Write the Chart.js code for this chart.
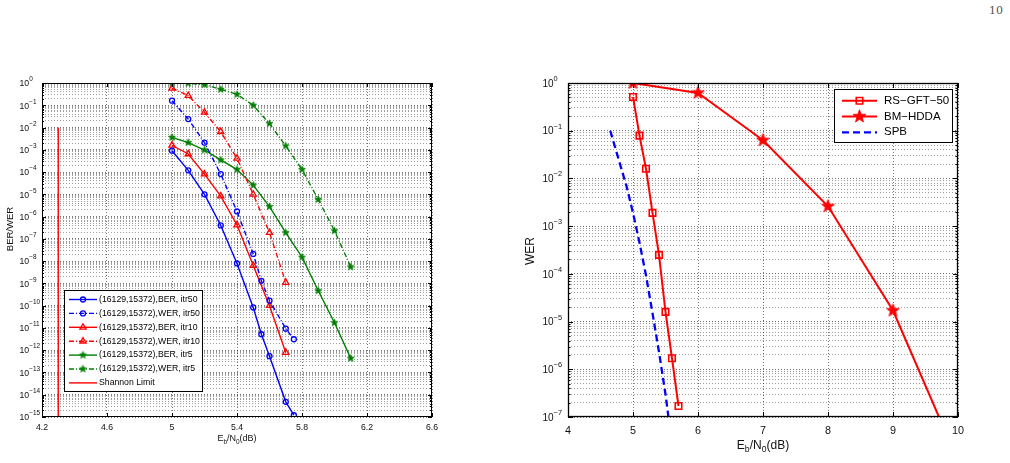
<!DOCTYPE html>
<html>
<head>
<meta charset="utf-8">
<script src="https://cdn.jsdelivr.net/npm/chart.js@4.4.1/dist/chart.umd.min.js"></script>
<style>
  html, body { margin: 0; padding: 0; background: #fff; width: 1010px; height: 463px; overflow: hidden; }
  #page { position: absolute; left: 989px; top: 4px; font: 11px "DejaVu Serif", "Liberation Serif", serif; color: #555; }
  #c1 { position: absolute; left: 0; top: 0; }
  #c2 { position: absolute; left: 480px; top: 0; }
</style>
</head>
<body>
<div id="page">10</div>
<canvas id="c1" width="450" height="463"></canvas>
<canvas id="c2" width="530" height="463"></canvas>
<script>
// ---- left panel: (16129,15372) code, BER/WER vs Eb/N0 ----
const ebnoItr50 = [5, 5.1, 5.2, 5.3, 5.4, 5.5, 5.55, 5.6, 5.7, 5.75];
const berItr50 = [9.1e-4, 1.2e-4, 1.0e-5, 4.0e-7, 7.9e-9, 8.3e-11, 5.2e-12, 5.4e-13, 4.8e-15, 1.2e-15];
const werItr50 = [1.6e-1, 2.4e-2, 2.1e-3, 8.1e-5, 1.7e-6, 2.1e-8, 1.3e-9, 1.7e-10, 9.3e-12, 3.1e-12];

const ebnoItr10 = [5, 5.1, 5.2, 5.3, 5.4, 5.5, 5.6, 5.7];
const berItr10 = [1.6e-3, 6.5e-4, 8.1e-5, 8.3e-6, 4.2e-7, 6.3e-9, 1.0e-10, 7.9e-13];
const werItr10 = [5.8e-1, 2.7e-1, 4.8e-2, 6.5e-3, 4.1e-4, 1.0e-5, 1.9e-7, 1.1e-9];

const ebnoItr5 = [5, 5.1, 5.2, 5.3, 5.4, 5.5, 5.6, 5.7, 5.8, 5.9, 6.0, 6.1];
const berItr5 = [3.6e-3, 2.1e-3, 9.8e-4, 3.5e-4, 1.3e-4, 2.6e-5, 2.8e-6, 1.9e-7, 1.5e-8, 4.7e-10, 1.7e-11, 4.3e-13];
const werItr5 = [1.0, 0.98, 0.85, 0.52, 0.31, 1.0e-1, 1.5e-2, 1.5e-3, 1.3e-4, 5.9e-6, 2.3e-7, 5.5e-9];

const shannonEbno = [4.3, 4.3];
const shannonLevel = [1e-2, 1e-15];

const leftXTicks = [4.2, 4.6, 5, 5.4, 5.8, 6.2, 6.6];
const leftYDecades = [-15, -14, -13, -12, -11, -10, -9, -8, -7, -6, -5, -4, -3, -2, -1, 0];

// ---- right panel: WER comparison ----
const ebnoRs = [5, 5.1, 5.2, 5.3, 5.4, 5.5, 5.6, 5.7];
const werRsGft50 = [0.51, 7.9e-2, 1.6e-2, 1.9e-3, 2.5e-4, 1.6e-5, 1.7e-6, 1.7e-7];
const ebnoBm = [5, 6, 7, 8, 9, 10];
const werBmHdda = [1.0, 0.62, 6.3e-2, 2.6e-3, 1.7e-5, 1.2e-8];
const ebnoSpb = [4.65, 4.8, 4.9, 5.0, 5.1, 5.2, 5.3, 5.4, 5.5, 5.55];
const werSpb = [1.0e-1, 2.0e-2, 6.9e-3, 1.9e-3, 4.5e-4, 9.3e-5, 1.5e-5, 2.3e-6, 3.0e-7, 8.9e-8];

const rightXTicks = [4, 5, 6, 7, 8, 9, 10];
const rightYDecades = [-7, -6, -5, -4, -3, -2, -1, 0];

const FONT = '"Liberation Sans", Arial, Helvetica, sans-serif';
const BLUE = '#0000ff', RED = '#ff0000', GREEN = '#008000';
const GRID_MAJOR = 'rgba(0,0,0,0.55)', GRID_MINOR = 'rgba(0,0,0,0.38)';

function series(xs, ys) { return xs.map((x, i) => ({ x, y: ys[i] })); }

function logTicks(decades) {
  const out = [];
  decades.forEach((e, i) => {
    const base = Math.pow(10, e);
    out.push({ value: base, major: true });
    if (i < decades.length - 1) {
      for (let k = 2; k <= 9; k++) out.push({ value: k * base, major: false });
    }
  });
  return out;
}

// filled pentagram used as point style
function pentagram(r, color) {
  const s = Math.ceil(2 * r + 3);
  const c = document.createElement('canvas');
  c.width = s; c.height = s;
  const g = c.getContext('2d');
  g.translate(s / 2, s / 2);
  g.beginPath();
  for (let k = 0; k < 10; k++) {
    const rr = k % 2 ? r * 0.42 : r;
    const a = -Math.PI / 2 + k * Math.PI / 5;
    g.lineTo(rr * Math.cos(a), rr * Math.sin(a));
  }
  g.closePath();
  g.fillStyle = color; g.fill();
  g.strokeStyle = color; g.lineWidth = 0.8; g.stroke();
  return c;
}

function drawMarker(ctx, ds, x, y) {
  const st = ds.pointStyle, r = ds.pointRadius || 0;
  if (!st || !r) return;
  if (typeof st === 'object') {
    ctx.drawImage(st, x - st.width / 2, y - st.height / 2);
    return;
  }
  ctx.save();
  ctx.setLineDash([]);
  ctx.strokeStyle = ds.pointBorderColor || ds.borderColor;
  ctx.lineWidth = ds.pointBorderWidth || 1;
  ctx.beginPath();
  if (st === 'circle') {
    ctx.arc(x, y, r, 0, Math.PI * 2);
  } else if (st === 'triangle') {
    ctx.moveTo(x, y - r);
    ctx.lineTo(x + 0.866 * r, y + 0.5 * r);
    ctx.lineTo(x - 0.866 * r, y + 0.5 * r);
    ctx.closePath();
  } else if (st === 'rect') {
    const h = r * Math.SQRT1_2;
    ctx.rect(x - h, y - h, 2 * h, 2 * h);
  }
  ctx.stroke();
  ctx.restore();
}

// legend drawn inside the axes, MATLAB style
const boxLegend = {
  id: 'boxLegend',
  afterDatasetsDraw(chart, args, o) {
    const ctx = chart.ctx;
    ctx.save();
    ctx.fillStyle = '#fff';
    ctx.fillRect(o.x, o.y, o.w, o.h);
    ctx.strokeStyle = '#000';
    ctx.lineWidth = 1;
    ctx.strokeRect(o.x + 0.5, o.y + 0.5, o.w, o.h);
    ctx.font = o.size + 'px ' + FONT;
    ctx.textBaseline = 'middle';
    ctx.textAlign = 'left';
    chart.data.datasets.forEach((ds, i) => {
      const y = o.y0 + i * o.step;
      ctx.save();
      ctx.strokeStyle = ds.borderColor;
      ctx.lineWidth = ds.borderWidth;
      ctx.setLineDash(ds.borderDash || []);
      ctx.beginPath();
      ctx.moveTo(o.x0, y);
      ctx.lineTo(o.x1, y);
      ctx.stroke();
      ctx.restore();
      drawMarker(ctx, ds, (o.x0 + o.x1) / 2, y);
      ctx.fillStyle = '#000';
      ctx.fillText(ds.label, o.tx, y);
    });
    ctx.restore();
  }
};

// box around the axes, inside tick marks and 10^n labels with real superscripts
const frame = {
  id: 'frame',
  afterDraw(chart, args, o) {
    const ctx = chart.ctx, a = chart.chartArea;
    const xs = chart.scales.x, ys = chart.scales.y;
    ctx.save();
    ctx.strokeStyle = '#000';
    ctx.lineWidth = 1;
    ctx.beginPath();
    xs.ticks.forEach(t => {
      const px = Math.round(xs.getPixelForValue(t.value)) + 0.5;
      ctx.moveTo(px, a.bottom); ctx.lineTo(px, a.bottom - o.tick);
      ctx.moveTo(px, a.top); ctx.lineTo(px, a.top + o.tick);
    });
    ys.ticks.forEach(t => {
      const py = Math.round(ys.getPixelForValue(t.value)) + 0.5;
      const len = t.major ? o.tick : o.tick * 0.5;
      ctx.moveTo(a.left, py); ctx.lineTo(a.left + len, py);
      ctx.moveTo(a.right, py); ctx.lineTo(a.right - len, py);
    });
    ctx.stroke();
    ctx.lineWidth = o.width;
    ctx.strokeRect(Math.round(a.left) + 0.5, Math.round(a.top) + 0.5,
      Math.round(a.right - a.left) - 1, Math.round(a.bottom - a.top) - 1);

    ctx.fillStyle = '#111';
    ctx.textAlign = 'left';
    ctx.textBaseline = 'middle';
    const sup = o.size * 0.74;
    ys.ticks.filter(t => t.major).forEach(t => {
      const py = ys.getPixelForValue(t.value);
      const e = Math.round(Math.log10(t.value));
      ctx.font = o.size + 'px ' + FONT;
      ctx.fillText('10', o.labelX, py + o.size * 0.1);
      const w = ctx.measureText('10').width;
      ctx.font = sup + 'px ' + FONT;
      ctx.fillText(String(e).replace('-', '\u2212'), o.labelX + w, py - o.size * 0.4);
    });
    ctx.restore();
  }
};

// axis titles with subscripts
function drawEbN0(ctx, cx, cy, size) {
  const parts = [['E', 0], ['b', 1], ['/N', 0], ['0', 1], ['(dB)', 0]];
  const sub = size * 0.72;
  let w = 0;
  parts.forEach(p => { ctx.font = (p[1] ? sub : size) + 'px ' + FONT; w += ctx.measureText(p[0]).width; });
  let x = cx - w / 2;
  parts.forEach(p => {
    ctx.font = (p[1] ? sub : size) + 'px ' + FONT;
    ctx.fillText(p[0], x, cy + (p[1] ? size * 0.32 : 0));
    x += ctx.measureText(p[0]).width;
  });
}
const axisTitles = {
  id: 'axisTitles',
  afterDraw(chart, args, o) {
    const ctx = chart.ctx;
    ctx.save();
    ctx.fillStyle = '#111';
    ctx.textBaseline = 'middle';
    ctx.textAlign = 'left';
    drawEbN0(ctx, o.xx, o.xy, o.xsize);
    ctx.translate(o.yx, o.yy);
    ctx.rotate(-Math.PI / 2);
    ctx.textAlign = 'center';
    ctx.font = o.ysize + 'px ' + FONT;
    ctx.fillText(o.ytext, 0, 0);
    ctx.restore();
  }
};

function makeScales(o) {
  return {
    x: {
      type: 'linear', min: o.xTicks[0], max: o.xTicks[o.xTicks.length - 1],
      afterBuildTicks: s => { s.ticks = o.xTicks.map(v => ({ value: v, major: true })); },
      afterFit: s => { s.height = o.xh; },
      ticks: { autoSkip: false, maxRotation: 0, padding: o.xpad, color: '#111',
        font: { family: FONT, size: o.tick }, callback: v => String(v) },
      grid: { color: GRID_MAJOR, lineWidth: 1, drawTicks: false },
      border: { display: false, dash: [1, 2] }
    },
    y: {
      type: 'logarithmic',
      min: Math.pow(10, o.yDecades[0]), max: Math.pow(10, o.yDecades[o.yDecades.length - 1]),
      afterBuildTicks: s => { s.ticks = logTicks(o.yDecades); },
      afterFit: s => { s.width = o.yw; },
      ticks: { display: false, autoSkip: false },
      grid: { color: c => (c.tick && c.tick.major ? GRID_MAJOR : GRID_MINOR), lineWidth: 1, drawTicks: false },
      border: { display: false, dash: [1, 2] }
    }
  };
}

const DASHDOT = [5, 2, 1, 2];
const starSmallG = pentagram(3.7, GREEN);
const starBigR = pentagram(6.8, RED);

function lineSet(label, xs, ys, color, dash, style, radius) {
  return {
    label, data: series(xs, ys),
    borderColor: color, borderWidth: 1.4, borderDash: dash,
    pointStyle: style, pointRadius: radius, pointBorderWidth: 1.3,
    pointBorderColor: color, pointBackgroundColor: 'rgba(0,0,0,0)', tension: 0
  };
}

new Chart(document.getElementById('c1'), {
  type: 'line',
  data: {
    datasets: [
      lineSet('(16129,15372),BER, itr50', ebnoItr50, berItr50, BLUE, [], 'circle', 2.5),
      lineSet('(16129,15372),WER, itr50', ebnoItr50, werItr50, BLUE, DASHDOT, 'circle', 2.5),
      lineSet('(16129,15372),BER, itr10', ebnoItr10, berItr10, RED, [], 'triangle', 3.6),
      lineSet('(16129,15372),WER, itr10', ebnoItr10, werItr10, RED, DASHDOT, 'triangle', 3.6),
      lineSet('(16129,15372),BER, itr5', ebnoItr5, berItr5, GREEN, [], starSmallG, 3.7),
      lineSet('(16129,15372),WER, itr5', ebnoItr5, werItr5, GREEN, DASHDOT, starSmallG, 3.7),
      lineSet('Shannon Limit', shannonEbno, shannonLevel, RED, [], false, 0)
    ]
  },
  options: {
    responsive: false, animation: false, events: [],
    layout: { padding: { left: 19, top: 83, right: 18, bottom: 0 } },
    scales: makeScales({ xTicks: leftXTicks, yDecades: leftYDecades, xh: 46, yw: 23, xpad: 5, tick: 8.7 }),
    plugins: {
      legend: { display: false }, tooltip: { enabled: false },
      boxLegend: { x: 64, y: 290, w: 138, h: 101, y0: 299.5, step: 13.9, x0: 69, x1: 97, tx: 99, size: 8.7 },
      frame: { tick: 4, width: 1, labelX: 19.5, size: 8.7 },
      axisTitles: { xx: 237, xy: 439, xsize: 9, yx: 10, yy: 229, ysize: 9.5, ytext: 'BER/WER' }
    }
  },
  plugins: [boxLegend, frame, axisTitles]
});

function thickSet(label, xs, ys, color, dash, style, radius) {
  const d = lineSet(label, xs, ys, color, dash, style, radius);
  d.borderWidth = 2;
  d.pointBorderWidth = 1.6;
  return d;
}

new Chart(document.getElementById('c2'), {
  type: 'line',
  data: {
    datasets: [
      thickSet('RS\u2212GFT\u221250', ebnoRs, werRsGft50, RED, [], 'rect', 4.6),
      thickSet('BM\u2212HDDA', ebnoBm, werBmHdda, RED, [], starBigR, 6.8),
      Object.assign(thickSet('SPB', ebnoSpb, werSpb, BLUE, [7, 4], false, 0), { borderWidth: 2.3 })
    ]
  },
  options: {
    responsive: false, animation: false, events: [],
    layout: { padding: { left: 63, top: 83, right: 52, bottom: 0 } },
    scales: makeScales({ xTicks: rightXTicks, yDecades: rightYDecades, xh: 46, yw: 25, xpad: 8, tick: 10.8 }),
    plugins: {
      legend: { display: false }, tooltip: { enabled: false },
      boxLegend: { x: 354, y: 89, w: 118, h: 53, y0: 100.7, step: 15.8, x0: 362, x1: 397, tx: 404, size: 11.5 },
      frame: { tick: 5, width: 1.3, labelX: 62.5, size: 10 },
      axisTitles: { xx: 283, xy: 446, xsize: 12, yx: 51, yy: 251, ysize: 12, ytext: 'WER' }
    }
  },
  plugins: [boxLegend, frame, axisTitles]
});
</script>
</body>
</html>
